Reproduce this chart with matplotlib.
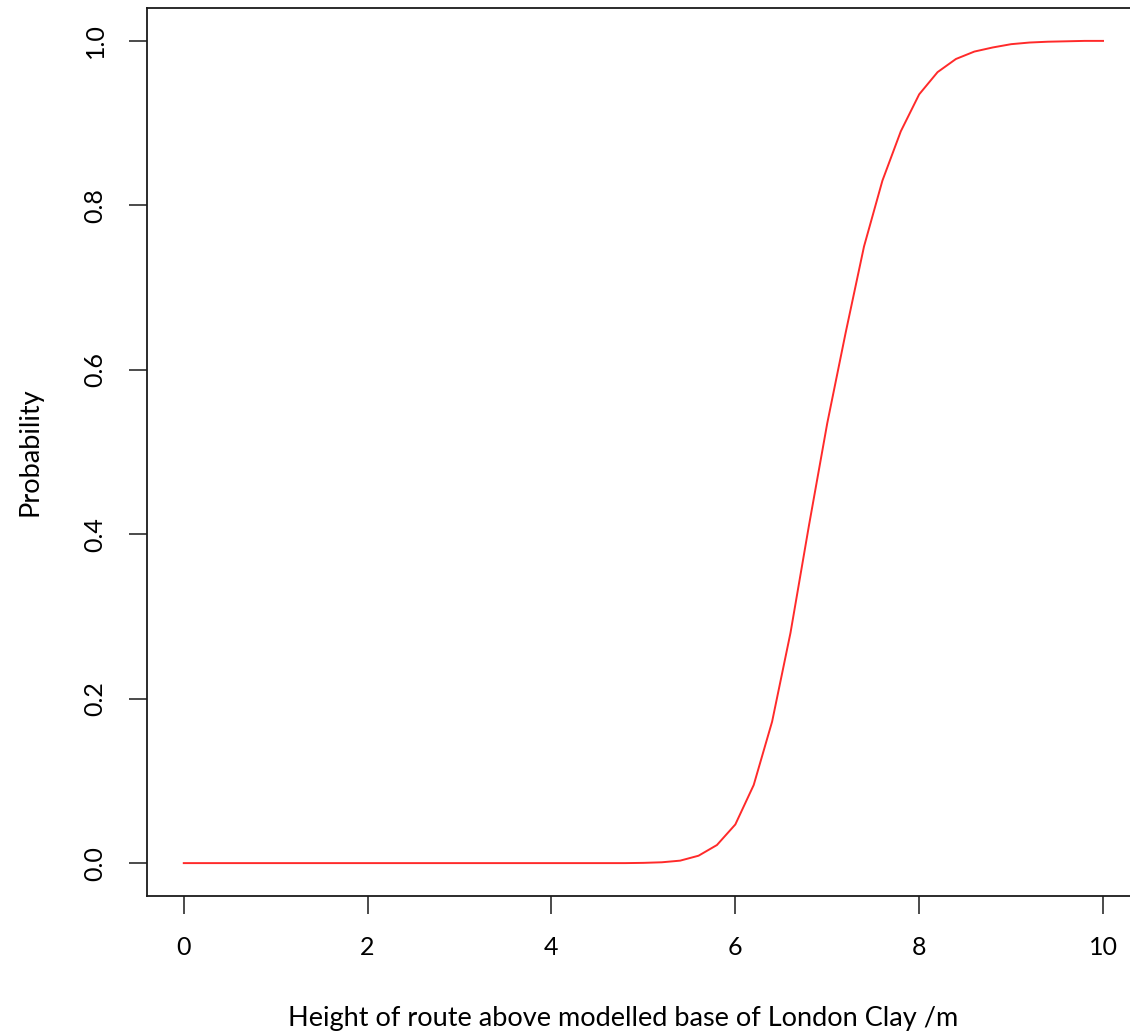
import matplotlib
matplotlib.use("Agg")
import matplotlib.pyplot as plt

# height above base of London Clay (m), read at 0.2 m steps
height = [round(0.2 * i, 1) for i in range(51)]
prob = [0.0] * 25 + [
    0.0003, 0.001, 0.003, 0.009, 0.022, 0.047, 0.095, 0.172, 0.28, 0.41,
    0.535, 0.645, 0.75, 0.83, 0.89, 0.935, 0.962, 0.978, 0.987, 0.992,
    0.996, 0.998, 0.999, 0.9995, 1.0, 1.0,
]
xticks = [0, 2, 4, 6, 8, 10]
yticks = [0.0, 0.2, 0.4, 0.6, 0.8, 1.0]

plt.rcParams['font.family'] = ['Lato', 'DejaVu Sans']

fig = plt.figure(figsize=(11.3, 10.36), dpi=100)
ax = fig.add_axes([147 / 1130, 1 - 896 / 1036, (1139.8 - 147) / 1130, (896 - 8) / 1036])

ax.plot(height, prob, color='#ff2a2a', lw=1.4)

ax.set_xlim(-0.4, 10.4)
ax.set_ylim(-0.04, 1.04)
ax.set_xticks(xticks)
ax.set_xticklabels([str(t) for t in xticks])
ax.set_yticks(yticks)
ax.set_yticklabels(['%.1f' % t for t in yticks], rotation=90, va='center')

for s in ax.spines.values():
    s.set_linewidth(1.3)
    s.set_color('#1a1a1a')
ax.tick_params(direction='out', length=13, width=1.1, color='#1a1a1a',
               labelsize=18, pad=16)

ax.set_xlabel('Height of route above modelled base of London Clay /m', fontsize=19.5)
ax.xaxis.set_label_coords(0.4795, -0.124)
ax.set_ylabel('Probability', fontsize=19.5, labelpad=30)

fig.savefig('out.png', dpi=100)
